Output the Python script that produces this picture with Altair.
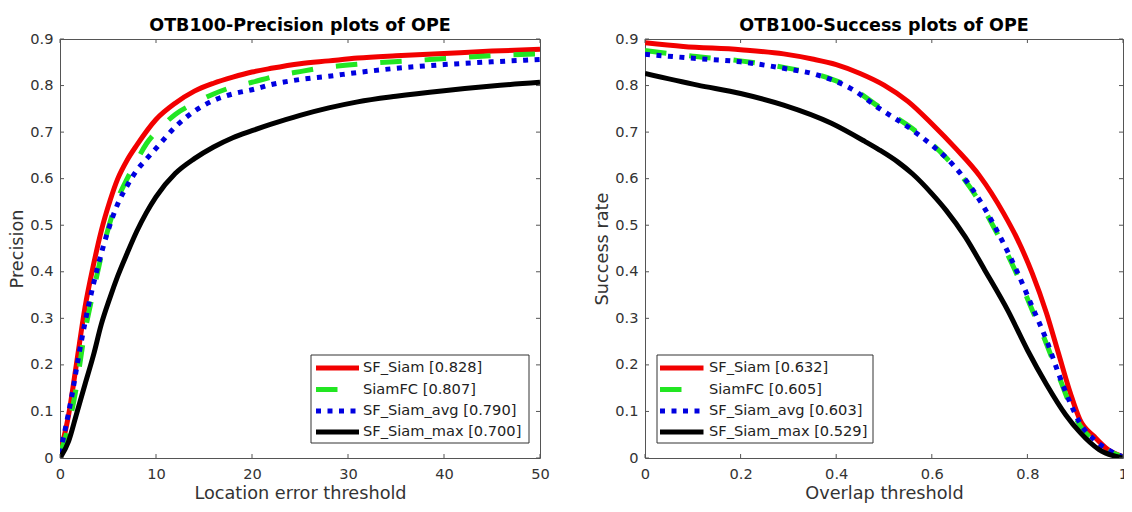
import altair as alt
import pandas as pd

# ---------------- data ----------------
SERIES = ["SF_Siam", "SiamFC", "SF_Siam_avg", "SF_Siam_max"]
COLORS = ["#f20000", "#22e622", "#0000e0", "#000000"]
DASHES = [None, [21.5, 23], [5, 6.5], None]
PREC_SCORES = ["0.828", "0.807", "0.790", "0.700"]
SUCC_SCORES = ["0.632", "0.605", "0.603", "0.529"]

# Precision plot (location error threshold)
prec_red_x = [0, 0.9, 1.7, 2.6, 3.5, 4.3, 5.2, 6, 7, 8, 10, 12, 14, 16, 18, 20, 22, 25, 28, 31, 35, 40, 45, 50]
prec_red_y = [0.01, 0.093, 0.2, 0.323, 0.416, 0.488, 0.552, 0.599, 0.64, 0.672, 0.727, 0.762, 0.788, 0.805, 0.818, 0.829, 0.837, 0.847, 0.853, 0.859, 0.864, 0.869, 0.874, 0.878]
prec_green_x = [0, 0.5, 1.6, 2.5, 3.5, 4.6, 5.8, 7, 7.8, 9, 10.5, 12, 14, 16, 18, 20, 22.4, 25, 27, 31.7, 36.3, 41, 45.6, 50]
prec_green_y = [0.01, 0.04, 0.14, 0.26, 0.36, 0.46, 0.545, 0.6, 0.631, 0.675, 0.71, 0.738, 0.762, 0.782, 0.797, 0.807, 0.82, 0.83, 0.837, 0.847, 0.853, 0.859, 0.865, 0.868]
prec_blue_x = [0, 1.2, 2.1, 3, 4, 5, 6, 7, 8, 9, 10, 12, 14, 16, 18, 20, 22, 25, 28, 31, 35, 40, 45, 50]
prec_blue_y = [0.01, 0.13, 0.237, 0.33, 0.416, 0.488, 0.545, 0.585, 0.618, 0.642, 0.665, 0.711, 0.745, 0.768, 0.782, 0.791, 0.802, 0.813, 0.82, 0.828, 0.837, 0.845, 0.851, 0.856]
prec_black_x = [0, 0.9, 1.7, 2.6, 3.5, 4.3, 5.2, 6, 7, 8, 9, 10, 12, 14, 16, 18, 20, 22, 25, 28, 31, 35, 40, 45, 50]
prec_black_y = [0.0, 0.036, 0.093, 0.158, 0.222, 0.287, 0.344, 0.39, 0.44, 0.487, 0.527, 0.561, 0.611, 0.643, 0.668, 0.688, 0.703, 0.717, 0.736, 0.752, 0.765, 0.777, 0.789, 0.799, 0.807]

# Success plot (overlap threshold)
succ_red_x = [0, 0.08, 0.2, 0.29, 0.35, 0.4, 0.45, 0.5, 0.55, 0.6, 0.65, 0.7, 0.75, 0.78, 0.81, 0.84, 0.865, 0.89, 0.91, 0.94, 0.97, 1.0]
succ_red_y = [0.892, 0.884, 0.877, 0.868, 0.857, 0.845, 0.826, 0.801, 0.766, 0.718, 0.665, 0.606, 0.526, 0.468, 0.397, 0.311, 0.225, 0.139, 0.082, 0.046, 0.017, 0.003]
succ_green_x = [0, 0.1, 0.2, 0.29, 0.36, 0.43, 0.49, 0.56, 0.63, 0.7, 0.75, 0.78, 0.81, 0.84, 0.865, 0.89, 0.91, 0.94, 0.97, 1.0]
succ_green_y = [0.875, 0.863, 0.853, 0.839, 0.824, 0.796, 0.754, 0.707, 0.645, 0.55, 0.455, 0.39, 0.318, 0.245, 0.178, 0.112, 0.07, 0.036, 0.015, 0.002]
succ_blue_x = [0, 0.11, 0.2, 0.29, 0.36, 0.43, 0.49, 0.56, 0.6, 0.63, 0.7, 0.75, 0.78, 0.81, 0.84, 0.865, 0.89, 0.91, 0.94, 0.97, 1.0]
succ_blue_y = [0.867, 0.858, 0.851, 0.837, 0.823, 0.794, 0.751, 0.704, 0.672, 0.645, 0.554, 0.461, 0.397, 0.325, 0.253, 0.182, 0.117, 0.075, 0.039, 0.017, 0.002]
succ_black_x = [0, 0.11, 0.2, 0.29, 0.39, 0.46, 0.49, 0.53, 0.56, 0.6, 0.63, 0.67, 0.71, 0.76, 0.8, 0.84, 0.88, 0.91, 0.95, 1.0]
succ_black_y = [0.826, 0.801, 0.783, 0.758, 0.719, 0.68, 0.662, 0.635, 0.61, 0.568, 0.532, 0.475, 0.405, 0.315, 0.232, 0.158, 0.093, 0.055, 0.018, 0.0]

PREC_X_TICKS = [0, 10, 20, 30, 40, 50]
SUCC_X_TICKS = [0, 0.2, 0.4, 0.6, 0.8, 1.0]
Y_TICKS = [0, 0.1, 0.2, 0.3, 0.4, 0.5, 0.6, 0.7, 0.8, 0.9]

FONT = "DejaVu Sans"
AXC = "#555555"
TXT = "#333333"
H = 419


def panel(title, curves, xdomain, xticks, xtitle, ytitle, scores, width, leg):
    xs = alt.Scale(domain=xdomain, nice=False, zero=False)
    ys = alt.Scale(domain=[0, 0.9], nice=False, zero=False)
    xenc = alt.X("x:Q", scale=xs, title=xtitle,
                 axis=alt.Axis(values=xticks, format=".1~f", labelPadding=8, titlePadding=4,
                               labelFlush=False))
    yenc = alt.Y("v:Q", scale=ys, title=ytitle,
                 axis=alt.Axis(values=Y_TICKS, format=".1~f", labelPadding=7, titlePadding=3))
    layers = []
    for i, (cx, cy) in enumerate(curves):
        df = pd.DataFrame({"x": cx, "v": cy})
        kw = dict(color=COLORS[i], strokeWidth=5, clip=True, interpolate="monotone")
        if DASHES[i] is not None:
            kw["strokeDash"] = DASHES[i]
        layers.append(alt.Chart(df).mark_line(**kw).encode(x=xenc, y=yenc))

    # inward ticks on all four sides
    xt = pd.DataFrame({"x": xticks})
    yt = pd.DataFrame({"v": Y_TICKS})
    rk = dict(color=AXC, strokeWidth=1)
    layers.append(alt.Chart(xt).mark_rule(**rk).encode(x=xenc, y=alt.value(H), y2=alt.value(H - 4)))
    layers.append(alt.Chart(xt).mark_rule(**rk).encode(x=xenc, y=alt.value(0), y2=alt.value(4)))
    layers.append(alt.Chart(yt).mark_rule(**rk).encode(y=yenc, x=alt.value(0), x2=alt.value(4)))
    layers.append(alt.Chart(yt).mark_rule(**rk).encode(y=yenc, x=alt.value(width), x2=alt.value(width - 4)))

    # legend box
    bx0, bx1, by0, by1, sx0, sx1, tx, rows = leg
    one = pd.DataFrame({"k": [0]})
    layers.append(alt.Chart(one).mark_rect(fill="white", stroke="#333333", strokeWidth=1).encode(
        x=alt.value(bx0), x2=alt.value(bx1), y=alt.value(by0), y2=alt.value(by1)))
    for i, name in enumerate(SERIES):
        kw = dict(color=COLORS[i], strokeWidth=5)
        if DASHES[i] is not None:
            kw["strokeDash"] = DASHES[i]
        layers.append(alt.Chart(one).mark_rule(**kw).encode(
            x=alt.value(sx0), x2=alt.value(sx1), y=alt.value(rows[i])))
        layers.append(alt.Chart(one).mark_text(
            align="left", baseline="middle", font=FONT, fontSize=14.6, color="#222222").encode(
            x=alt.value(tx), y=alt.value(rows[i]), text=alt.value(f"{name} [{scores[i]}]")))

    return alt.layer(*layers).properties(
        width=width, height=H,
        title=alt.TitleParams(text=title, font=FONT, fontSize=17.5, fontWeight="bold",
                              color="#000000", offset=-3, anchor="middle"))


ROWS = [329, 350.5, 372, 393]
left = panel("OTB100-Precision plots of OPE",
             [(prec_red_x, prec_red_y), (prec_green_x, prec_green_y),
              (prec_blue_x, prec_blue_y), (prec_black_x, prec_black_y)],
             [0, 50], PREC_X_TICKS, "Location error threshold", "Precision", PREC_SCORES, 480,
             (251, 469, 316, 404, 256, 299, 303, ROWS))
right = panel("OTB100-Success plots of OPE",
              [(succ_red_x, succ_red_y), (succ_green_x, succ_green_y),
               (succ_blue_x, succ_blue_y), (succ_black_x, succ_black_y)],
              [0, 1], SUCC_X_TICKS, "Overlap threshold", "Success rate", SUCC_SCORES, 478,
              (12, 228, 316, 404, 15, 58.5, 64, ROWS))

chart = alt.hconcat(left, right, spacing=105, bounds="flush").properties(
    padding={"left": 0, "top": 8, "right": -5, "bottom": 0},
    background="white",
).configure_view(stroke=AXC, strokeWidth=1).configure_axis(
    domain=False, ticks=False, tickSize=0, grid=False,
    labelFont=FONT, labelFontSize=14.6, labelColor=TXT,
    titleFont=FONT, titleFontSize=17.7, titleFontWeight="normal", titleColor=TXT,
)

chart.save("out.html", embed_options={"renderer": "svg", "actions": False})
